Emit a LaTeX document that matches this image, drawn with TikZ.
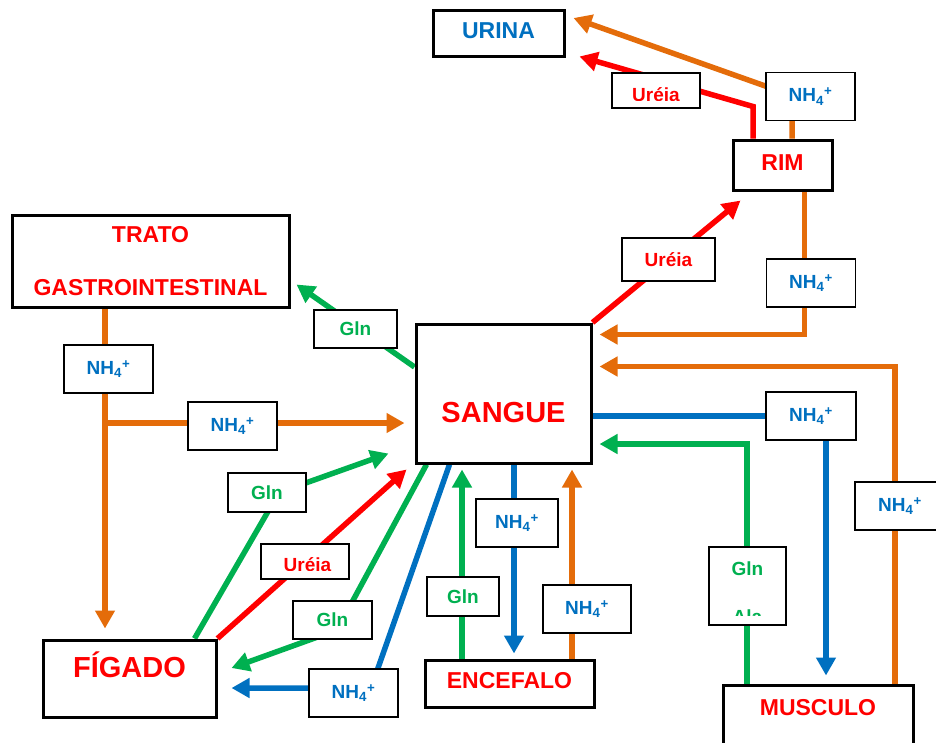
\documentclass[tikz,border=0pt]{standalone}
\usepackage{fontspec}
\setmainfont{Liberation Sans}
\usetikzlibrary{arrows.meta, backgrounds}
\definecolor{orgA}{HTML}{E46C0A}
\definecolor{redA}{HTML}{FF0000}
\definecolor{grnA}{HTML}{00B050}
\definecolor{bluA}{HTML}{0070C0}
\newcommand{\nhq}{NH\textsubscript{4}\textsuperscript{+}}

\begin{document}
\begin{tikzpicture}[x=1pt, y=-1pt, >={Triangle[length=18pt, width=19pt]},
  bx/.style={draw, line width=3pt, fill=white, inner sep=0pt, text=redA, font=\bfseries\fontsize{23}{28}\selectfont},
  big/.style={font=\bfseries\fontsize{29}{34}\selectfont},
  lb/.style={draw, line width=1.5pt, fill=white, inner sep=0pt, font=\bfseries\fontsize{19}{23}\selectfont},
  nh/.style={lb, text=bluA, minimum width=89pt, minimum height=48pt},
  gl/.style={lb, text=grnA},
  ur/.style={lb, text=redA},
  ct/.style={anchor=base, inner sep=0pt, font=\bfseries\fontsize{19}{23}\selectfont},
  con/.style={line width=5.5pt, ->}]
\useasboundingbox (0,0) rectangle (936,742);

\node[bx, text=bluA, minimum width=131pt, text height=28pt, text depth=18pt] (urina) at (498.5,33) {URINA};
\node[bx, minimum width=99pt, text height=30pt, text depth=20pt] (rim) at (782.5,165) {RIM};
\node[bx, minimum width=277pt, minimum height=92pt, align=center, font=\bfseries\fontsize{23}{53}\selectfont] (tgi) at (150.5,261) {TRATO\\GASTROINTESTINAL};
\node[bx, big, minimum width=175pt, text height=98pt, text depth=41pt] (sangue) at (503.5,393.5) {SANGUE};
\node[bx, big, minimum width=173pt, text height=37pt, text depth=40pt] (figado) at (129.5,678.5) {FÍGADO};
\node[bx, minimum width=169pt, text height=28pt, text depth=19pt] (encefalo) at (509.5,683.5) {ENCEFALO};
\node[bx, minimum width=190pt, text height=30pt, text depth=40pt] (musculo) at (818,720) {MUSCULO};

\node[nh] (nhU) at (810.5,96.5) {\nhq};
\node[ur, minimum width=88pt, minimum height=35pt, path picture={
    \clip (path picture bounding box.north west) rectangle ([yshift=8pt]path picture bounding box.south east);
    \node[ct, text=redA] (ureT) at ([yshift=6.5pt]path picture bounding box.south) {Uréia};}] (urU) at (656,90.5) {};
\node[ur, minimum width=93pt, minimum height=43pt] (urR) at (668.5,259.5) {Uréia};
\node[nh] (nhR) at (811,283) {\nhq};
\node[gl, minimum width=83pt, minimum height=38pt] (glT) at (355.5,329) {Gln};
\node[nh] (nhT) at (108.5,369) {\nhq};
\node[nh] (nhH) at (232.5,426) {\nhq};
\node[nh, minimum width=90pt] (nhM) at (811,416) {\nhq};
\node[nh, minimum width=90pt] (nhF) at (900,506) {\nhq};
\node[gl, minimum width=78pt, minimum height=39pt] (glL) at (267,492.5) {Gln};
\node[ur, minimum width=88pt, minimum height=35pt, path picture={
    \clip (path picture bounding box.north west) rectangle ([yshift=9pt]path picture bounding box.south east);
    \node[ct, text=redA] (ureL) at ([xshift=2.5pt, yshift=7.5pt]path picture bounding box.south) {Uréia};}] (urL) at (305,561.5) {};
\node[gl, minimum width=79pt, minimum height=38pt] (glM) at (332.5,620) {Gln};
\node[nh] (nhL) at (353.5,693) {\nhq};
\node[gl, minimum width=72pt, minimum height=39pt] (glE) at (463,596.5) {Gln};
\node[nh, minimum width=82pt] (nhE) at (517,523) {\nhq};
\node[nh, minimum width=88pt] (nhE2) at (587,609) {\nhq};
\node[gl, minimum width=77pt, text height=28pt, text depth=50pt, path picture={
    \clip (path picture bounding box.north west) rectangle ([yshift=10pt]path picture bounding box.south east);
    \node[ct, text=grnA] (ala) at ([yshift=1.5pt]path picture bounding box.south) {Ala};}] (gla) at (747.5,586) {Gln};

\begin{scope}[on background layer]
\draw[con, orgA] ([xshift=9.5pt]rim.north) -- ([xshift=9.5pt, yshift=43pt]rim.north) -- ([xshift=8pt, yshift=15pt]urina.east);
\draw[con, redA] ([xshift=-29.5pt]rim.north) -- ([xshift=-29.5pt, yshift=32pt]rim.north) -- ([xshift=14pt, yshift=1pt]urina.south east);
\draw[con, redA] (sangue.north east) -- ([xshift=9pt, yshift=-9pt]rim.south west);
\draw[con, orgA] ([xshift=22pt]rim.south) |- ([xshift=7pt, yshift=-12pt]sangue.north east);
\draw[con, orgA] ([xshift=77pt]musculo.north) |- ([xshift=7pt, yshift=-44pt]sangue.north east);
\draw[con, bluA] ([yshift=-22.5pt]sangue.east) -| ([xshift=8pt, yshift=8pt]musculo.north);
\draw[con, grnA] ([xshift=-71pt]musculo.north) |- ([xshift=7pt, yshift=-50.5pt]sangue.east);
\draw[con, grnA] ([yshift=26.5pt]sangue.west) -- ([xshift=6pt, yshift=24pt]tgi.south east);
\draw[con, orgA] ([xshift=-45.5pt]tgi.south) -- ([xshift=-24.5pt, yshift=10pt]figado.north);
\draw[con, orgA] ([xshift=-45.5pt]tgi.south) |- ([xshift=-10pt, yshift=-29.5pt]sangue.west);
\draw[con, grnA] ([xshift=-23pt]figado.north east) -- ([xshift=12pt]glL.center) -- ([xshift=-26pt, yshift=11pt]sangue.south west);
\draw[con, redA] (figado.north east) -- ([xshift=-8pt, yshift=-5pt]sangue.south west);
\draw[con, grnA] ([xshift=12pt]sangue.south west) -- ([xshift=4.5pt, yshift=-10pt]glM.center) -- ([xshift=14pt, yshift=10.5pt]figado.east);
\draw[con, bluA] ([xshift=35pt]sangue.south west) -- ([xshift=17.5pt, yshift=5pt]nhL.center) -- ([xshift=14pt, yshift=-9.5pt]figado.east);
\draw[con, grnA] ([xshift=-47.5pt]encefalo.north) -- ([xshift=-41.5pt, yshift=-5pt]sangue.south);
\draw[con, bluA] ([xshift=10.5pt]sangue.south) -- ([xshift=4.5pt, yshift=5pt]encefalo.north);
\draw[con, orgA] ([xshift=62.5pt]encefalo.north) -- ([xshift=68.5pt, yshift=-5pt]sangue.south);
\end{scope}
\end{tikzpicture}
\end{document}
